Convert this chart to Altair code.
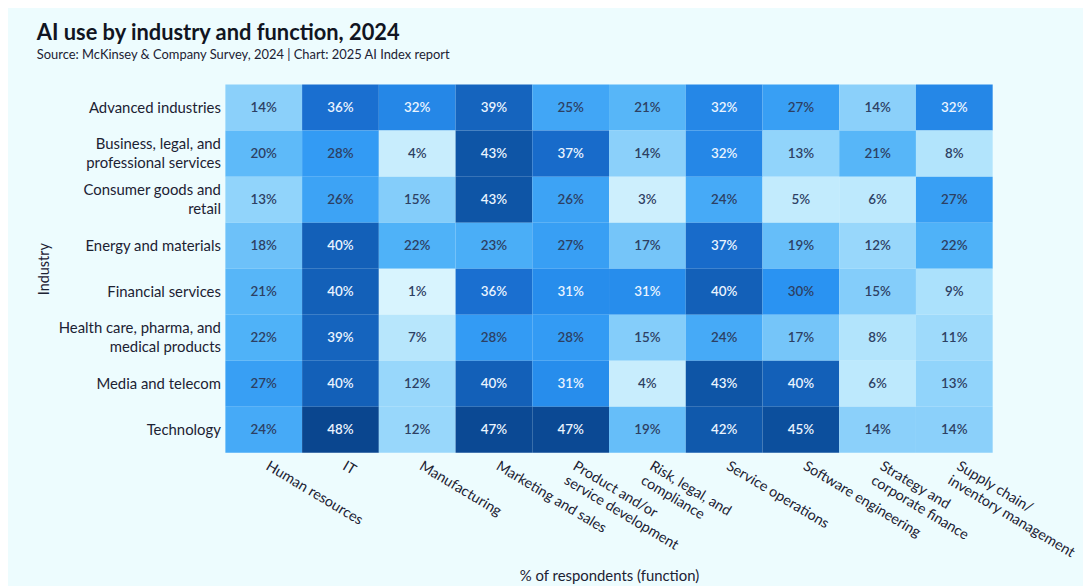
import altair as alt
import pandas as pd

industries = [
    "Advanced industries",
    "Business, legal, and\nprofessional services",
    "Consumer goods and\nretail",
    "Energy and materials",
    "Financial services",
    "Health care, pharma, and\nmedical products",
    "Media and telecom",
    "Technology",
]
functions = [
    "Human resources",
    "IT",
    "Manufacturing",
    "Marketing and sales",
    "Product and/or\nservice development",
    "Risk, legal, and\ncompliance",
    "Service operations",
    "Software engineering",
    "Strategy and\ncorporate finance",
    "Supply chain/\ninventory management",
]

advanced = [14, 36, 32, 39, 25, 21, 32, 27, 14, 32]
business = [20, 28, 4, 43, 37, 14, 32, 13, 21, 8]
consumer = [13, 26, 15, 43, 26, 3, 24, 5, 6, 27]
energy = [18, 40, 22, 23, 27, 17, 37, 19, 12, 22]
financial = [21, 40, 1, 36, 31, 31, 40, 30, 15, 9]
health = [22, 39, 7, 28, 28, 15, 24, 17, 8, 11]
media = [27, 40, 12, 40, 31, 4, 43, 40, 6, 13]
technology = [24, 48, 12, 47, 47, 19, 42, 45, 14, 14]

series = [advanced, business, consumer, energy, financial, health, media, technology]

rows = []
for ind, vals in zip(industries, series):
    for fn, v in zip(functions, vals):
        rows.append({"industry": ind, "function": fn, "value": v, "label": f"{v}%"})
df = pd.DataFrame(rows)

FONT = "Lato"
TEXT = "#1c2233"
color_domain = [1, 8, 15, 22, 30, 36, 43, 48]
color_range = ["#d8f4fe", "#b2e4fc", "#84cdfa", "#4fb2f8", "#2a93f2", "#1a6fd0", "#0e55a6", "#0a468f"]

x_enc = alt.X(
    "function:N",
    sort=functions,
    scale=alt.Scale(paddingInner=0, paddingOuter=0),
    axis=alt.Axis(
        title="% of respondents (function)",
        labelExpr="split(datum.label, '\\n')",
        labelAngle=31,
        labelAlign="left",
        labelBaseline="top",
        labelPadding=6,
        labelOffset=7,
        labelFontSize=14.5,
        labelLineHeight=17,
        labelColor=TEXT,
        labelFont=FONT,
        ticks=False,
        domain=False,
        titleFont=FONT,
        titleFontSize=15,
        titleFontWeight="normal",
        titleColor=TEXT,
        titleX=386.5,
        titleY=117,
        titleBaseline="top",
        titleAlign="center",
        labelLimit=400,
    ),
)
y_enc = alt.Y(
    "industry:N",
    sort=industries,
    scale=alt.Scale(paddingInner=0, paddingOuter=0),
    axis=alt.Axis(
        title="Industry",
        labelExpr="split(datum.label, '\\n')",
        labelFontSize=15,
        labelLineHeight=19,
        labelPadding=5,
        labelOffset=alt.condition("indexof(datum.value, '\\n') >= 0", alt.value(-10), alt.value(0)),
        labelColor=TEXT,
        labelFont=FONT,
        ticks=False,
        domain=False,
        titleFont=FONT,
        titleFontSize=14.5,
        titleFontWeight="normal",
        titleColor=TEXT,
        titleAngle=270,
        titleX=-182,
        titleY=185.5,
        titleBaseline="middle",
        titleAlign="center",
        labelLimit=400,
    ),
)

rects = alt.Chart(df).mark_rect().encode(
    x=x_enc,
    y=y_enc,
    color=alt.Color(
        "value:Q",
        scale=alt.Scale(domain=color_domain, range=color_range, interpolate="rgb"),
        legend=None,
    ),
)

texts = alt.Chart(df).mark_text(font=FONT, fontSize=13.5, fontWeight=600).encode(
    x=alt.X("function:N", sort=functions),
    y=alt.Y("industry:N", sort=industries),
    text="label:N",
    color=alt.condition(alt.datum.value > 30, alt.value("#eaf4ff"), alt.value("#2d4063")),
)

chart = (
    alt.layer(rects, texts)
    .properties(
        width=773,
        height=371,
        autosize=alt.AutoSizeParams(type="none"),
        padding={"left": 219, "top": 75, "right": 91, "bottom": 132},
        background="#edfcfe",
        title=alt.TitleParams(
            text="AI use by industry and function, 2024",
            subtitle="Source: McKinsey & Company Survey, 2024 | Chart: 2025 AI Index report",
            anchor="start",
            frame="group",
            dx=-190,
            offset=22,
            font=FONT,
            fontSize=22,
            fontWeight="bold",
            color="#111522",
            subtitleFont=FONT,
            subtitleFontSize=13,
            subtitleColor=TEXT,
            subtitlePadding=4,
        ),
    )
    .configure_view(stroke=None)
)

chart.save("out.html", embed_options={"renderer": "svg", "actions": False})
